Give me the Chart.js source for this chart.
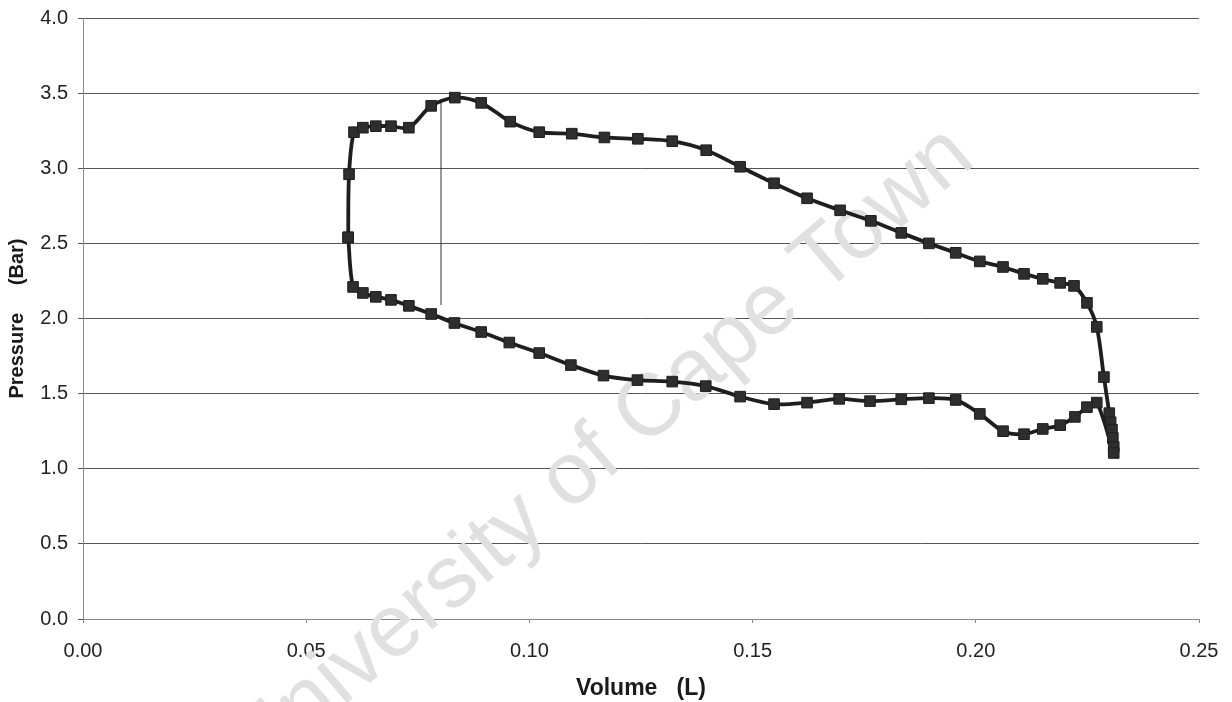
<!DOCTYPE html>
<html>
<head>
<meta charset="utf-8">
<script src="https://cdn.jsdelivr.net/npm/chart.js@4/dist/chart.umd.min.js"></script>
<style>
  html, body { margin: 0; padding: 0; background: #ffffff; }
  #wrap { width: 1232px; height: 702px; position: relative; }
</style>
</head>
<body>
<div id="wrap"><canvas id="c" width="1232" height="702"></canvas></div>
<script>
// Volume (L) and Pressure (Bar) of the measured cycle, in drawing order
const volume = [
  0.0594, 0.0596, 0.0607, 0.0627, 0.0656, 0.0690, 0.0730, 0.0780, 0.0833, 0.0892,
  0.0957, 0.1022, 0.1095, 0.1168, 0.1243, 0.1320, 0.1396, 0.1472, 0.1548, 0.1622,
  0.1696, 0.1765, 0.1833, 0.1895, 0.1955, 0.2009, 0.2061, 0.2108, 0.2150, 0.2189,
  0.2220, 0.2249, 0.2271, 0.2287, 0.2299, 0.2302, 0.2305, 0.2307, 0.2309, 0.2309,
  0.2271, 0.2249, 0.2222, 0.2189, 0.2150, 0.2108, 0.2061, 0.2009, 0.1955, 0.1895,
  0.1833, 0.1763, 0.1694, 0.1622, 0.1548, 0.1472, 0.1395, 0.1320, 0.1242, 0.1166,
  0.1093, 0.1022, 0.0955, 0.0892, 0.0832, 0.0780, 0.0730, 0.0690, 0.0656, 0.0627,
  0.0605, 0.0594
];
const pressure = [
  2.54, 2.96, 3.24, 3.27, 3.28, 3.28, 3.27, 3.415, 3.47, 3.435,
  3.31, 3.24, 3.23, 3.205, 3.196, 3.18, 3.12, 3.01, 2.90, 2.80,
  2.72, 2.65, 2.57, 2.50, 2.437, 2.38, 2.343, 2.297, 2.264, 2.237,
  2.217, 2.104, 1.944, 1.61, 1.37, 1.31, 1.26, 1.205, 1.145, 1.105,
  1.44, 1.41, 1.345, 1.29, 1.265, 1.23, 1.25, 1.365, 1.458, 1.47,
  1.462, 1.45, 1.465, 1.44, 1.43, 1.48, 1.55, 1.58, 1.59, 1.62,
  1.69, 1.77, 1.84, 1.91, 1.97, 2.03, 2.084, 2.124, 2.144, 2.17,
  2.21, 2.54
];
// thin vertical marker line
const markerVolume = [0.0802, 0.0802];
const markerPressure = [2.09, 3.46];

const xTicks = [0.00, 0.05, 0.10, 0.15, 0.20, 0.25];
const yTicks = [0.0, 0.5, 1.0, 1.5, 2.0, 2.5, 3.0, 3.5, 4.0];
const xTitle = 'Volume   (L)';
const yTitle = 'Pressure     (Bar)';
const watermark = 'University of Cape Town';

const cycle = volume.map((v, i) => ({ x: v, y: pressure[i] }));
const marker = markerVolume.map((v, i) => ({ x: v, y: markerPressure[i] }));

const watermarkPlugin = {
  id: 'watermark',
  beforeDatasetsDraw(chart) {
    const ctx = chart.ctx;
    ctx.save();
    ctx.translate(257, 780);
    ctx.rotate(-40.6 * Math.PI / 180);
    ctx.font = '88px "Liberation Sans", Arial, sans-serif';
    ctx.fillStyle = '#e0e0e0';
    ctx.textAlign = 'left';
    ctx.textBaseline = 'alphabetic';
    ctx.fillText(watermark, 0, 0);
    ctx.restore();
  }
};

const family = '"Liberation Sans", Arial, sans-serif';
const tickFont = { family: family, size: 20 };

new Chart(document.getElementById('c'), {
  type: 'scatter',
  data: {
    datasets: [
      {
        data: cycle,
        showLine: true,
        borderColor: '#1e1e1e',
        borderWidth: 3.8,
        tension: 0.3,
        pointStyle: 'rect',
        pointRadius: 7.5,
        pointBackgroundColor: '#2e2e2e',
        pointBorderColor: '#1e1e1e',
        pointBorderWidth: 1
      },
      {
        data: marker,
        showLine: true,
        borderColor: '#333333',
        borderWidth: 1,
        pointRadius: 0,
        tension: 0
      }
    ]
  },
  options: {
    responsive: false,
    animation: false,
    layout: { padding: { top: 18, right: 33, left: 0, bottom: 0 } },
    plugins: { legend: { display: false }, tooltip: { enabled: false } },
    scales: {
      x: {
        type: 'linear',
        min: 0, max: 0.25,
        afterBuildTicks(scale) { scale.ticks = xTicks.map(v => ({ value: v })); },
        afterFit(scale) {
          scale.height = 83;
          scale.paddingLeft = 0;
          scale.paddingRight = 0;
        },
        ticks: {
          font: tickFont, color: '#222222', padding: 16,
          callback: v => Number(v).toFixed(2), maxRotation: 0
        },
        grid: { drawOnChartArea: false, drawTicks: true, tickLength: 4, color: '#888888' },
        border: { display: true, color: '#888888', width: 1 },
        title: {
          display: true, text: xTitle, color: '#1a1a1a',
          font: { family: family, size: 23, weight: 'bold' },
          padding: { top: 0, bottom: 0 }
        }
      },
      y: {
        type: 'linear',
        min: 0, max: 4,
        afterBuildTicks(scale) { scale.ticks = yTicks.map(v => ({ value: v })); },
        afterFit(scale) {
          scale.width = 83;
          scale.paddingTop = 0;
          scale.paddingBottom = 0;
        },
        ticks: {
          font: tickFont, color: '#222222', padding: 10,
          callback: v => Number(v).toFixed(1)
        },
        grid: { color: '#555555', lineWidth: 1, drawTicks: true, tickLength: 5 },
        border: { display: true, color: '#888888', width: 1 },
        title: {
          display: true, text: yTitle, color: '#1a1a1a',
          font: { family: family, size: 20, weight: 'bold' },
          padding: { top: 5, bottom: 0 }
        }
      }
    }
  },
  plugins: [watermarkPlugin]
});
</script>
</body>
</html>
